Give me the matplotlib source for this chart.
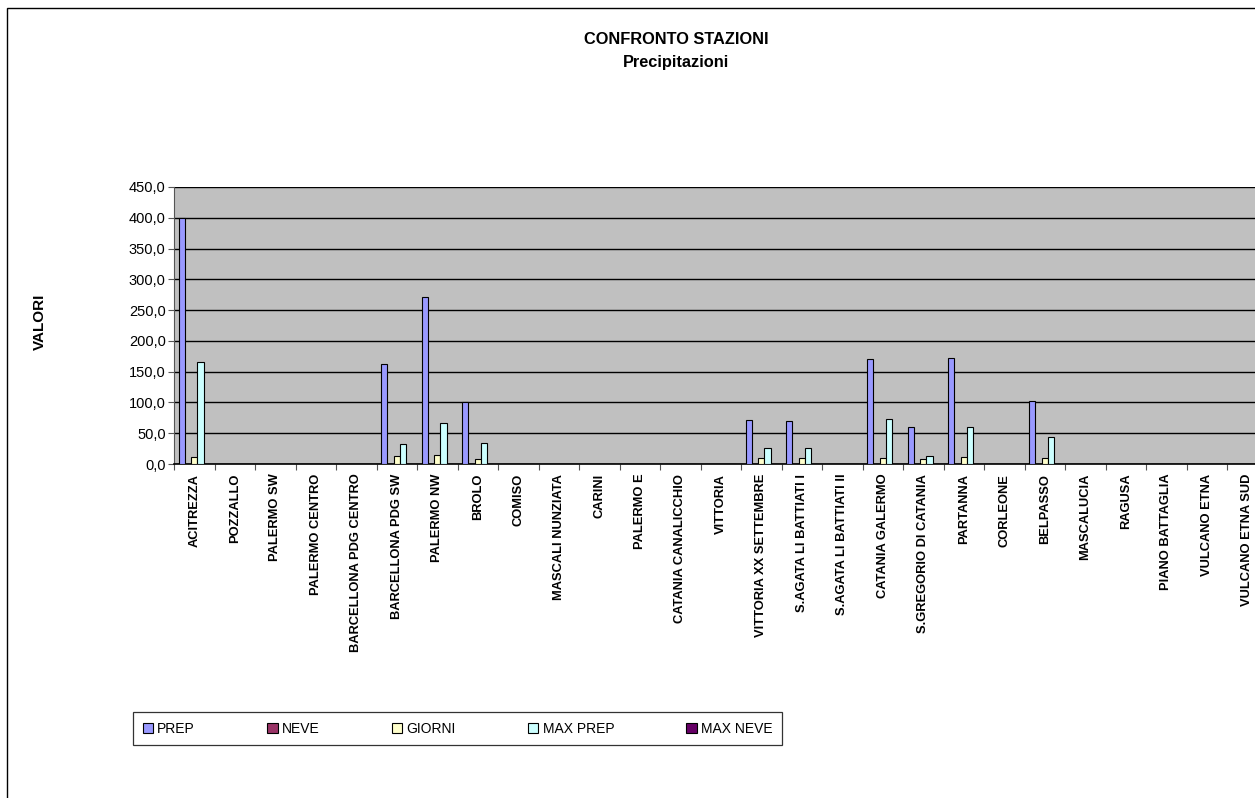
import matplotlib
matplotlib.use("Agg")
import matplotlib.pyplot as plt
from matplotlib.patches import Rectangle
from matplotlib.ticker import FuncFormatter, MultipleLocator
import numpy as np

plt.rcParams['font.family'] = ['Liberation Sans', 'DejaVu Sans']

stations = ["ACITREZZA", "POZZALLO", "PALERMO SW", "PALERMO CENTRO", "BARCELLONA PDG CENTRO",
            "BARCELLONA PDG SW", "PALERMO NW", "BROLO", "COMISO", "MASCALI NUNZIATA",
            "CARINI", "PALERMO E", "CATANIA CANALICCHIO", "VITTORIA", "VITTORIA XX SETTEMBRE",
            "S.AGATA LI BATTIATI I", "S.AGATA LI BATTIATI II", "CATANIA GALERMO",
            "S.GREGORIO DI CATANIA", "PARTANNA", "CORLEONE", "BELPASSO", "MASCALUCIA",
            "RAGUSA", "PIANO BATTAGLIA", "VULCANO ETNA", "VULCANO ETNA SUD"]

prep     = [400, 0, 0, 0, 0, 162, 270.5, 100.5, 0, 0, 0, 0, 0, 0, 71, 70, 0, 170.5, 60, 172, 0, 102.5, 0, 0, 0, 0, 0]
neve     = [0] * 27
giorni   = [11, 0, 0, 0, 0, 13, 14.5, 8, 0, 0, 0, 0, 0, 0, 9, 10, 0, 10, 8, 11.5, 0, 10, 0, 0, 0, 0, 0]
max_prep = [165, 0, 0, 0, 0, 32.5, 66, 34, 0, 0, 0, 0, 0, 0, 26.5, 25.5, 0, 73, 13.5, 60, 0, 44, 0, 0, 0, 0, 0]
max_neve = [0] * 27

series_names = ["PREP", "NEVE", "GIORNI", "MAX PREP", "MAX NEVE"]
series_vals = [prep, neve, giorni, max_prep, max_neve]
colors = ["#9999FF", "#993366", "#FFFFCC", "#CCFFFF", "#660066"]

W, H = 1255, 798
fig = plt.figure(figsize=(W / 100, H / 100), dpi=100)

# outer chart frame
fig.patches.append(Rectangle((7 / W, -0.1), 1.2, 1 - 8 / H + 0.1, transform=fig.transFigure,
                             fill=False, edgecolor="black", linewidth=1.0))

n = len(stations)
ax_left, ax_right = 174, 174 + 40.5 * n
ax_top, ax_bot = 187, 464
ax = fig.add_axes([ax_left / W, 1 - ax_bot / H, (ax_right - ax_left) / W, (ax_bot - ax_top) / H])
ax.set_facecolor("#C0C0C0")

x = np.arange(n)
bw = 1 / 6.5
for i, (name, vals, c) in enumerate(zip(series_names, series_vals, colors)):
    offs = -0.5 + 0.75 * bw + i * bw
    ax.bar(x + offs, vals, width=bw, align="edge", color=c, edgecolor="black", linewidth=0.8,
           label=name, zorder=3)

ax.set_xlim(-0.5, n - 0.5)
ax.set_ylim(0, 450)
ax.yaxis.set_major_locator(MultipleLocator(50))
ax.yaxis.set_major_formatter(FuncFormatter(lambda v, p: f"{v:.1f}".replace(".", ",")))
ax.grid(axis="y", color="black", linewidth=1.0, zorder=1)
ax.set_axisbelow(True)

ax.set_xticks(np.arange(n + 1) - 0.5, minor=False)
ax.set_xticklabels([])
ax.set_xticks(x, minor=True)
ax.set_xticklabels(stations, minor=True, rotation=90, fontsize=9.3, fontweight="bold", va="top")
ax.tick_params(axis="x", which="minor", length=0, pad=7)
ax.tick_params(axis="x", which="major", length=4, direction="out", color="#555555")
ax.tick_params(axis="y", labelsize=10.5, length=4, direction="out", color="#555555", pad=2)

for s in ["top", "right"]:
    ax.spines[s].set_visible(False)
ax.spines["left"].set_color("#555555")
ax.spines["bottom"].set_color("black")
ax.spines["bottom"].set_linewidth(1.2)

fig.text(676 / W, 1 - 39 / H, "CONFRONTO STAZIONI", ha="center", va="center", fontsize=11.8, fontweight="bold")
fig.text(676 / W, 1 - 62 / H, "Precipitazioni", ha="center", va="center", fontsize=11.8, fontweight="bold")
fig.text(40 / W, 1 - 322 / H, "VALORI", ha="center", va="center", rotation=90, fontsize=11, fontweight="bold")

leg = fig.legend(loc="upper left", bbox_to_anchor=(133 / W, 1 - 712 / H), ncol=5, frameon=True,
                 fancybox=False, edgecolor="black", fontsize=10, handlelength=0.75, handleheight=0.75,
                 handletextpad=0.3, columnspacing=5.2, borderpad=0.7, borderaxespad=0)
leg.get_frame().set_linewidth(0.9)
for h in leg.legend_handles:
    h.set_linewidth(0.8)

fig.savefig("out.png", dpi=100, facecolor="white")
